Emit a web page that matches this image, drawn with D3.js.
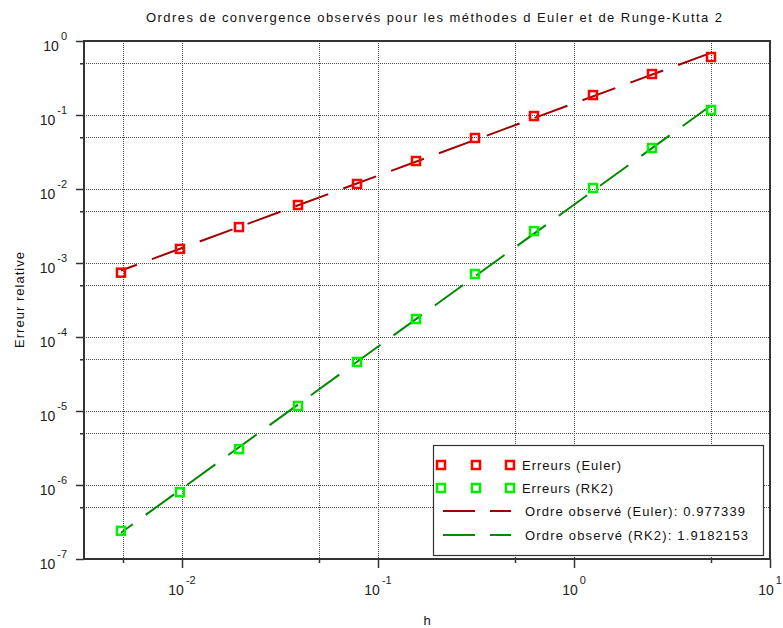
<!DOCTYPE html>
<html>
<head>
<meta charset="utf-8">
<script src="https://cdn.jsdelivr.net/npm/d3@7/dist/d3.min.js"></script>
<style>
  html, body { margin: 0; padding: 0; background: #ffffff; }
  svg { display: block; font-family: "Liberation Sans", Arial, sans-serif; }
</style>
</head>
<body>
<svg id="chart" width="783" height="628"></svg>
<script>
// Step sizes h (halved each time) and the observed relative errors
const stepSizes = [5, 2.5, 1.25, 0.625, 0.3125, 0.15625, 0.078125, 0.0390625, 0.01953125, 0.009765625, 0.0048828125];
const eulerErrors = [0.608, 0.358, 0.186, 0.0968, 0.0489, 0.0239, 0.0117, 0.00608, 0.00306, 0.00155, 0.00074];
const rk2Errors = [0.117, 0.0358, 0.0103, 0.0027, 0.00071, 0.000175, 0.000046, 0.0000117, 0.00000306, 0.0000008, 0.00000024];

// Fitted convergence orders (slopes in log-log space)
const eulerOrder = 0.977339;
const rk2Order = 1.9182153;

// Axis ticks
const xMajorTicks = [0.01, 0.1, 1, 10];
const xMajorExponents = ["-2", "-1", "0", "1"];
const xMinorTicks = [0.005, 0.05, 0.5, 5];
const yMajorTicks = [1e-7, 1e-6, 1e-5, 1e-4, 1e-3, 1e-2, 1e-1, 1];
const yMajorExponents = ["-7", "-6", "-5", "-4", "-3", "-2", "-1", "0"];
const yMinorTicks = [5e-7, 5e-6, 5e-5, 5e-4, 5e-3, 5e-2, 5e-1];

const titleText = "Ordres de convergence observés pour les méthodes d Euler et de Runge-Kutta 2";
const xLabel = "h";
const yLabel = "Erreur relative";
const legendLabels = [
  "Erreurs (Euler)",
  "Erreurs (RK2)",
  "Ordre observé (Euler): " + eulerOrder,
  "Ordre observé (RK2): " + rk2Order
];

const svg = d3.select("#chart");
const plot = { left: 84, right: 770, top: 41, bottom: 559 };

const x = d3.scaleLog().domain([Math.pow(10, -2.5), 10]).range([plot.left, plot.right]);
const y = d3.scaleLog().domain([1e-7, 1]).range([plot.bottom, plot.top]);

const axisColor = "#333333";
const gridColor = "#4a4a4a";
const eulerMarker = "#ff0000", rk2Marker = "#00f000";
const eulerLine = "#a00000", rk2Line = "#008a00";

// Dotted grid
const grid = svg.append("g");
[...xMajorTicks.slice(0, 3), ...xMinorTicks].forEach(v => {
  const px = Math.round(x(v)) + 0.5;
  grid.append("line").attr("x1", px).attr("x2", px).attr("y1", plot.top).attr("y2", plot.bottom)
    .attr("stroke", gridColor).attr("stroke-width", 1).attr("stroke-dasharray", "1,1");
});
[...yMajorTicks.slice(1, 7), ...yMinorTicks].forEach(v => {
  const py = Math.round(y(v)) + 0.5;
  grid.append("line").attr("x1", plot.left).attr("x2", plot.right).attr("y1", py).attr("y2", py)
    .attr("stroke", gridColor).attr("stroke-width", 1).attr("stroke-dasharray", "1,1");
});

// Ticks drawn with d3 axes (labels added separately for superscripts)
function styleAxis(g) {
  g.select(".domain").remove();
  g.selectAll("line").attr("stroke", axisColor).attr("stroke-width", 1.5);
  g.selectAll("text").remove();
}
svg.append("g").attr("transform", `translate(0,${plot.bottom})`)
  .call(d3.axisBottom(x).tickValues(xMajorTicks).tickSize(9).tickFormat("")).call(styleAxis);
svg.append("g").attr("transform", `translate(0,${plot.bottom})`)
  .call(d3.axisBottom(x).tickValues(xMinorTicks).tickSize(4).tickFormat("")).call(styleAxis);
svg.append("g").attr("transform", `translate(${plot.left},0)`)
  .call(d3.axisLeft(y).tickValues(yMajorTicks).tickSize(8).tickFormat("")).call(styleAxis);
svg.append("g").attr("transform", `translate(${plot.left},0)`)
  .call(d3.axisLeft(y).tickValues(yMinorTicks).tickSize(4).tickFormat("")).call(styleAxis);

// Frame
svg.append("rect").attr("x", plot.left).attr("y", plot.top)
  .attr("width", plot.right - plot.left).attr("height", plot.bottom - plot.top)
  .attr("fill", "none").attr("stroke", axisColor).attr("stroke-width", 2);

// Tick labels: 10 with superscript exponent
function powerLabel(g, exp) {
  g.append("tspan").attr("font-size", 14).text("10");
  g.append("tspan").attr("font-size", 11).attr("dx", 2).attr("dy", -11).text(exp);
}
xMajorTicks.forEach((v, i) => {
  const t = svg.append("text").attr("x", x(v)).attr("y", 595)
    .attr("text-anchor", "middle").attr("fill", "#222");
  powerLabel(t, xMajorExponents[i]);
});
yMajorTicks.forEach((v, i) => {
  const t = svg.append("text").attr("x", 67).attr("y", y(v) + 9.5)
    .attr("text-anchor", "end").attr("fill", "#222");
  powerLabel(t, yMajorExponents[i]);
});

// Fitted lines: slope is the observed order, intercept from least squares in log space.
// Drawn from the largest step down to the smallest.
function fitLine(errors, order) {
  const lx = stepSizes.map(Math.log10), ly = errors.map(Math.log10);
  const b = d3.mean(ly.map((v, i) => v - order * lx[i]));
  const hs = [d3.max(stepSizes), d3.min(stepSizes)];
  return hs.map(h => [h, Math.pow(10, b + order * Math.log10(h))]);
}
const line = d3.line().x(d => x(d[0])).y(d => y(d[1]));
svg.append("path").attr("d", line(fitLine(eulerErrors, eulerOrder)))
  .attr("fill", "none").attr("stroke", eulerLine).attr("stroke-width", 2)
  .attr("stroke-dasharray", "35,16");
svg.append("path").attr("d", line(fitLine(rk2Errors, rk2Order)))
  .attr("fill", "none").attr("stroke", rk2Line).attr("stroke-width", 2)
  .attr("stroke-dasharray", "35,16");

// Square markers
function markers(errors, color) {
  svg.append("g").selectAll("rect").data(stepSizes).join("rect")
    .attr("x", (d) => x(d) - 4).attr("y", (d, i) => y(errors[i]) - 4)
    .attr("width", 8).attr("height", 8)
    .attr("fill", "none").attr("stroke", color).attr("stroke-width", 2.5);
}
markers(eulerErrors, eulerMarker);
markers(rk2Errors, rk2Marker);

// Legend
const lg = svg.append("g");
lg.append("rect").attr("x", 433.5).attr("y", 445.5).attr("width", 330).attr("height", 110)
  .attr("fill", "#ffffff").attr("stroke", "#333").attr("stroke-width", 1.2);
[[465, eulerMarker], [488, rk2Marker]].forEach(([ly, c], k) => {
  [441, 476, 510].forEach(lx => {
    lg.append("rect").attr("x", lx - 4).attr("y", ly - 4).attr("width", 8).attr("height", 8)
      .attr("fill", "none").attr("stroke", c).attr("stroke-width", 2.5);
  });
  lg.append("text").attr("x", 522).attr("y", ly + 4.5).attr("font-size", 13).attr("fill", "#111")
    .attr("textLength", k === 0 ? 99 : 91).attr("lengthAdjust", "spacing").text(legendLabels[k]);
});
[[511, eulerLine, 2], [535, rk2Line, 3]].forEach(([ly, c, k]) => {
  [[443, 475], [490, 511]].forEach(([a, b]) => {
    lg.append("line").attr("x1", a).attr("x2", b).attr("y1", ly).attr("y2", ly)
      .attr("stroke", c).attr("stroke-width", 2);
  });
  lg.append("text").attr("x", 525).attr("y", ly + 4.5).attr("font-size", 13).attr("fill", "#111")
    .attr("textLength", k === 2 ? 220 : 223).attr("lengthAdjust", "spacing").text(legendLabels[k]);
});

// Title and axis labels
svg.append("text").attr("x", 146).attr("y", 21.5).attr("font-size", 13).attr("fill", "#111")
  .attr("textLength", 576).attr("lengthAdjust", "spacing").text(titleText);
svg.append("text").attr("x", (plot.left + plot.right) / 2).attr("y", 625)
  .attr("text-anchor", "middle").attr("font-size", 13).attr("fill", "#111").text(xLabel);
svg.append("text").attr("transform", `translate(24,${(plot.top + plot.bottom) / 2}) rotate(-90)`)
  .attr("text-anchor", "middle").attr("font-size", 13).attr("fill", "#111")
  .attr("textLength", 96).attr("lengthAdjust", "spacing").text(yLabel);
</script>
</body>
</html>
